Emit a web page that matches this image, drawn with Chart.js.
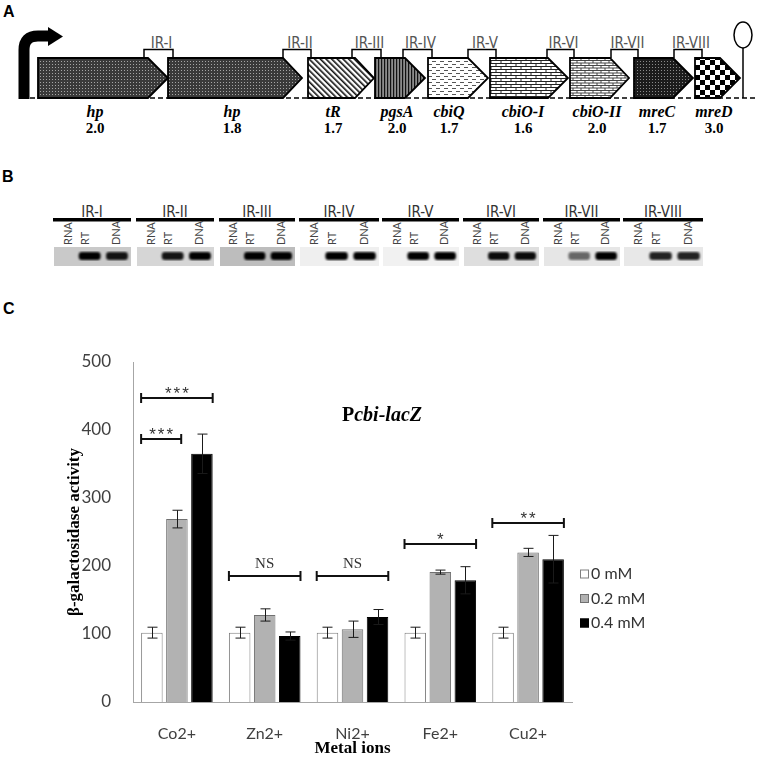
<!DOCTYPE html>
<html lang="en">
<head>
<meta charset="UTF-8">
<title>Pcbi-lacZ activity under metal ions</title>
<script src="https://cdn.jsdelivr.net/npm/chart.js"></script>
<style>
  body { margin: 0; background: #fff; }
  #fig { position: relative; width: 758px; height: 759px; overflow: hidden; }
  #art { position: absolute; left: 0; top: 0; }
  #panelC { position: absolute; left: 0; top: 290px; width: 758px; height: 469px; }
</style>
</head>
<body>
<div id="fig">
  <svg id="art" width="758" height="759" xmlns="http://www.w3.org/2000/svg"></svg>
  <div id="panelC"><canvas id="graphique"></canvas></div>
</div>

<script>
// ---- panel C data (beta-galactosidase activity) ----
const metals = ['Co2+', 'Zn2+', 'Ni2+', 'Fe2+', 'Cu2+'];
const conc = ['0 mM', '0.2 mM', '0.4 mM'];
const act0 = [102, 102, 102, 102, 102];
const act02 = [269, 128, 107, 191, 220];
const act04 = [365, 97, 125, 179, 210];
const err0 = [8, 8, 8, 8, 8];
const err02 = [13, 9, 12, 3, 6];
const err04 = [29, 6, 11, 20, 35];
const yTicks = [0, 100, 200, 300, 400, 500];

// significance brackets: metal index, last dataset covered, level, label
const sigMetal = [0, 0, 1, 2, 3, 4];
const sigTo = [2, 1, 2, 2, 2, 2];
const sigLevel = [447, 387, 185, 185, 232, 263];
const sigText = ['***', '***', 'NS', 'NS', '*', '**'];

// ---- panel A: operon map ----
const genes = ['hp', 'hp', 'tR', 'pgsA', 'cbiQ', 'cbiO-I', 'cbiO-II', 'mreC', 'mreD'];
const geneRatio = ['2.0', '1.8', '1.7', '2.0', '1.7', '1.6', '2.0', '1.7', '3.0'];
const irNames = ['IR-I', 'IR-II', 'IR-III', 'IR-IV', 'IR-V', 'IR-VI', 'IR-VII', 'IR-VIII'];

// ---- panel B: RT-PCR gel ----
const lanes = ['RNA', 'RT', 'DNA'];
const rtBand = [1, 0.9, 1, 1, 1, 0.95, 0.55, 0.85];
const dnaBand = [0.9, 1, 1, 1, 1, 0.95, 1, 0.85];

// layout of the drawn map (pixels)
const geneStart = [38, 168, 308, 375, 428, 490, 570, 634, 695];
const geneBody = [148, 283, 355, 405, 468, 548, 610, 673, 720];
const geneTip = [168, 302, 374, 425, 488, 568, 629, 693, 740];
const geneLabelX = [95, 232, 333, 397, 449, 523, 597, 657, 714];
const geneFill = ['pDots', 'pDots', 'pDiag', 'pVert', 'pDash', 'pBrick', 'pBrick2', 'pDots2', 'pCheck'];
const irFrom = [144, 283, 352, 403, 468, 547, 611, 674];
const irTo = [173, 311, 381, 432, 496, 574, 638, 702];
const gelFrom = [53, 136, 219, 299, 382, 463, 543, 623];
const gelTo = [131, 214, 295, 379, 459, 539, 620, 703];
const gelBg = ['#c9c9c9', '#d6d6d6', '#bdbdbd', '#efefef', '#f1f1f1', '#dedede', '#e6e6e6', '#e8e8e8'];

let s = '';
s += `<defs>
  <pattern id="pDots" width="3" height="3" patternUnits="userSpaceOnUse"><rect width="3" height="3" fill="#3a3a3a"/><rect x="1" y="1" width="1" height="1" fill="#a5a5a5"/></pattern>
  <pattern id="pDots2" width="3" height="3" patternUnits="userSpaceOnUse"><rect width="3" height="3" fill="#1c1c1c"/><rect x="1" y="1" width="1" height="1" fill="#8a8a8a"/></pattern>
  <pattern id="pDiag" width="4" height="4" patternUnits="userSpaceOnUse" patternTransform="rotate(-45)"><rect width="4" height="4" fill="#fff"/><rect width="1.6" height="4" fill="#111"/></pattern>
  <pattern id="pVert" width="3" height="4" patternUnits="userSpaceOnUse"><rect width="3" height="4" fill="#8c8c8c"/><rect width="1.2" height="4" fill="#111"/></pattern>
  <pattern id="pDash" width="8" height="6" patternUnits="userSpaceOnUse"><rect width="8" height="6" fill="#fff"/><rect x="0" y="1" width="4" height="1" fill="#555"/><rect x="4" y="4" width="4" height="1" fill="#555"/></pattern>
  <pattern id="pBrick" width="10" height="6" patternUnits="userSpaceOnUse"><rect width="10" height="6" fill="#fff"/><path d="M0 0.5H10M0 3.5H10M1 0.5V3.5M6 3.5V6.5" stroke="#222" stroke-width="1" fill="none"/></pattern>
  <pattern id="pBrick2" width="8" height="5" patternUnits="userSpaceOnUse"><rect width="8" height="5" fill="#fff"/><path d="M0 0.5H8M0 3H8M1 0.5V3M5 3V5.5" stroke="#333" stroke-width="0.9" fill="none"/></pattern>
  <pattern id="pCheck" width="10" height="10" patternUnits="userSpaceOnUse"><rect width="10" height="10" fill="#fff"/><rect width="5" height="5" fill="#000"/><rect x="5" y="5" width="5" height="5" fill="#000"/></pattern>
  <filter id="blur"><feGaussianBlur stdDeviation="1.1"/></filter>
</defs>`;

const bold = 'font-family="Liberation Sans, Arial, sans-serif" font-weight="bold" font-size="16"';
s += `<text x="3" y="17" ${bold}>A</text>`;
s += `<text x="2" y="182" ${bold}>B</text>`;
s += `<text x="3" y="314" ${bold}>C</text>`;

// panel A
s += `<line x1="30" y1="98" x2="758" y2="98" stroke="#000" stroke-width="1.6" stroke-dasharray="5 3"/>`;
s += `<path d="M24 99 V50 Q24 36 38 36 H50" stroke="#000" stroke-width="11" fill="none"/>`;
s += `<polygon points="48,27 63,36.5 48,46" fill="#000"/>`;
genes.forEach((g, i) => {
  s += `<polygon points="${geneStart[i]},58 ${geneBody[i]},58 ${geneTip[i]},78 ${geneBody[i]},98 ${geneStart[i]},98" fill="url(#${geneFill[i]})" stroke="#000" stroke-width="1.8" stroke-linejoin="miter"/>`;
  s += `<text x="${geneLabelX[i]}" y="117" text-anchor="middle" font-family="Liberation Serif, serif" font-style="italic" font-weight="bold" font-size="16">${g}</text>`;
  s += `<text x="${geneLabelX[i]}" y="133" text-anchor="middle" font-family="Liberation Serif, serif" font-weight="bold" font-size="15">${geneRatio[i]}</text>`;
});
s += `<line x1="743" y1="48" x2="743" y2="98" stroke="#000" stroke-width="1.5"/>`;
s += `<ellipse cx="743" cy="35" rx="9" ry="13" fill="#fff" stroke="#000" stroke-width="1.5"/>`;
const narrow = 'font-family="Liberation Sans Narrow, DejaVu Sans Condensed, Lato, sans-serif"';
irNames.forEach((n, i) => {
  s += `<path d="M${irFrom[i]} 58 V49.5 H${irTo[i]} V58" stroke="#000" stroke-width="1.5" fill="none"/>`;
  s += `<text x="${(irFrom[i] + irTo[i]) / 2 + 3}" y="48" text-anchor="middle" ${narrow} font-size="15" fill="#555">${n}</text>`;
});

// panel B
irNames.forEach((n, i) => {
  const x0 = gelFrom[i], w = gelTo[i] - gelFrom[i];
  s += `<text x="${x0 + w / 2}" y="217" text-anchor="middle" ${narrow} font-size="15" fill="#333">${n}</text>`;
  s += `<rect x="${x0}" y="218" width="${w}" height="3.5" fill="#000"/>`;
  const lx = [0.19, 0.41, 0.81];
  lanes.forEach((l, k) => {
    const cx = x0 + w * lx[k] + 4;
    s += `<text transform="translate(${cx},245) rotate(-90)" font-family="Lato, sans-serif" font-size="11" fill="#444">${l}</text>`;
  });
  s += `<rect x="${x0 + 1}" y="247" width="${w - 1}" height="19" fill="${gelBg[i]}"/>`;
  const bw = w * 0.28;
  s += `<rect x="${x0 + w * 0.47 - bw / 2}" y="252" width="${bw}" height="8" rx="3" fill="#000" opacity="${rtBand[i]}" filter="url(#blur)"/>`;
  s += `<rect x="${x0 + w * 0.82 - bw / 2}" y="252" width="${bw}" height="8" rx="3" fill="#000" opacity="${dnaBand[i]}" filter="url(#blur)"/>`;
});
document.getElementById('art').innerHTML = s;

// ---- chart ----
const errs = [err0, err02, err04];

const overlay = {
  id: 'overlay',
  afterDatasetsDraw(chart) {
    const { ctx, chartArea, scales: { y } } = chart;
    ctx.save();
    // error bars
    ctx.strokeStyle = '#1a1a1a';
    ctx.lineWidth = 1;
    chart.data.datasets.forEach((ds, i) => {
      chart.getDatasetMeta(i).data.forEach((bar, j) => {
        const x = Math.round(bar.x) + 0.5;
        const yt = y.getPixelForValue(ds.data[j] + errs[i][j]);
        const yb = y.getPixelForValue(ds.data[j] - errs[i][j]);
        ctx.beginPath();
        ctx.moveTo(x, yt); ctx.lineTo(x, yb);
        ctx.moveTo(x - 5, yt); ctx.lineTo(x + 5, yt);
        ctx.moveTo(x - 5, yb); ctx.lineTo(x + 5, yb);
        ctx.stroke();
      });
    });
    // significance brackets
    sigLevel.forEach((v, k) => {
      const a = chart.getDatasetMeta(0).data[sigMetal[k]];
      const b = chart.getDatasetMeta(sigTo[k]).data[sigMetal[k]];
      const x1 = a.x - a.width / 2;
      const x2 = sigTo[k] === 2 ? b.x + b.width / 2 : b.x + b.width * 0.2;
      const yy = Math.round(y.getPixelForValue(v));
      ctx.strokeStyle = '#111';
      ctx.lineWidth = 2;
      ctx.beginPath();
      ctx.moveTo(x1, yy); ctx.lineTo(x2, yy);
      ctx.moveTo(x1, yy - 5); ctx.lineTo(x1, yy + 5);
      ctx.moveTo(x2, yy - 5); ctx.lineTo(x2, yy + 5);
      ctx.stroke();
      ctx.fillStyle = '#333';
      ctx.textAlign = 'center';
      ctx.textBaseline = 'alphabetic';
      if (sigText[k] === 'NS') {
        ctx.letterSpacing = '0px';
        ctx.font = '15px "Liberation Serif", serif';
        ctx.fillText(sigText[k], (x1 + x2) / 2, yy - 8);
      } else {
        ctx.letterSpacing = '2px';
        ctx.font = '17px "Liberation Sans", sans-serif';
        ctx.fillText(sigText[k], (x1 + x2) / 2 + 1, yy + 1);
      }
    });
    ctx.letterSpacing = '0px';
    // title P + italic cbi-lacZ
    ctx.fillStyle = '#000';
    ctx.textAlign = 'left';
    const f1 = 'bold 20px "Liberation Serif", serif';
    const f2 = 'italic bold 20px "Liberation Serif", serif';
    ctx.font = f1; const w1 = ctx.measureText('P').width;
    ctx.font = f2; const w2 = ctx.measureText('cbi-lacZ').width;
    const tx = 382 - (w1 + w2) / 2, ty = chartArea.top + 59;
    ctx.font = f1; ctx.fillText('P', tx, ty);
    ctx.font = f2; ctx.fillText('cbi-lacZ', tx + w1, ty);
    // legend
    ctx.font = '16px Lato, sans-serif';
    ctx.textBaseline = 'middle';
    chart.data.datasets.forEach((ds, i) => {
      const ly = chartArea.top + 212 + i * 24.5;
      const lx = chartArea.right + 8;
      ctx.fillStyle = ds.backgroundColor;
      ctx.fillRect(lx, ly - 4.5, 9, 9);
      ctx.strokeStyle = ds.borderColor;
      ctx.lineWidth = 1;
      ctx.strokeRect(lx + 0.5, ly - 4, 8, 8);
      ctx.fillStyle = '#333';
      ctx.fillText(ds.label, lx + 11, ly);
    });
    ctx.restore();
  }
};

new Chart(document.getElementById('graphique'), {
  type: 'bar',
  data: {
    labels: metals,
    datasets: [
      { label: conc[0], data: act0, backgroundColor: '#ffffff', borderColor: '#808080', borderWidth: 1 },
      { label: conc[1], data: act02, backgroundColor: '#b2b2b2', borderColor: '#707070', borderWidth: 1 },
      { label: conc[2], data: act04, backgroundColor: '#000000', borderColor: '#000000', borderWidth: 1 }
    ]
  },
  options: {
    responsive: true,
    maintainAspectRatio: false,
    animation: false,
    datasets: { bar: { categoryPercentage: 0.855, barPercentage: 0.86 } },
    layout: { padding: { top: 72, right: 186, bottom: 0, left: 0 } },
    plugins: { legend: { display: false }, tooltip: { enabled: false } },
    scales: {
      x: {
        grid: { display: false },
        border: { color: '#a6a6a6' },
        ticks: { padding: 14, color: '#404040', font: { family: 'Lato', size: 16 } },
        title: { display: true, text: 'Metal ions', color: '#000', padding: 0,
                 font: { family: '"Liberation Serif"', size: 17, weight: 'bold' } },
        afterFit: sc => { sc.height = 57; }
      },
      y: {
        min: 0, max: 500,
        afterBuildTicks: sc => { sc.ticks = yTicks.map(v => ({ value: v })); },
        grid: { display: false },
        border: { color: '#a6a6a6' },
        ticks: { padding: 14, color: '#404040', font: { family: 'Lato', size: 17 } },
        title: { display: true, text: 'β-galactosidase activity', color: '#000',
                 padding: { top: 64, bottom: 0 },
                 font: { family: '"Liberation Serif"', size: 17, weight: 'bold' } },
        afterFit: sc => { sc.width = 133; }
      }
    }
  },
  plugins: [overlay]
});
</script>
</body>
</html>
